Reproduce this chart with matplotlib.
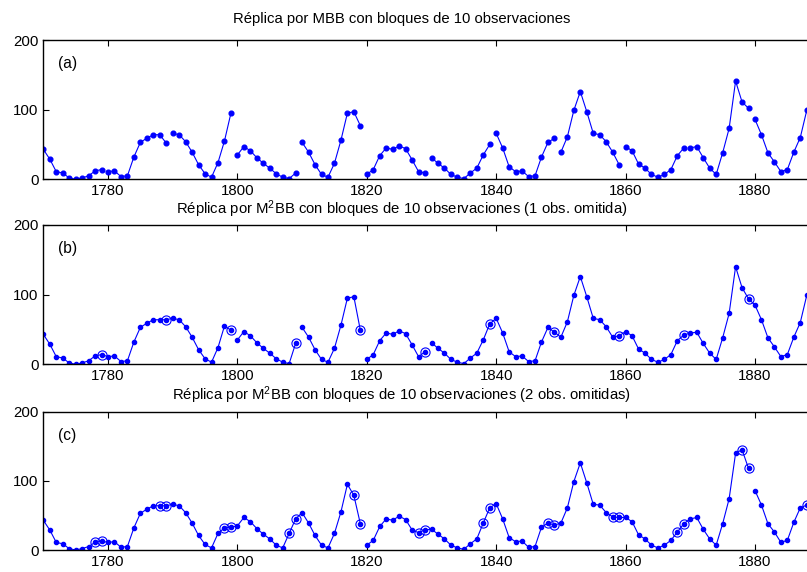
import matplotlib
matplotlib.use("Agg")
import matplotlib.pyplot as plt
import numpy as np

plt.rcParams['font.family'] = ['Liberation Sans', 'DejaVu Sans']
plt.rcParams['mathtext.fontset'] = 'custom'
plt.rcParams['mathtext.rm'] = 'Liberation Sans'
plt.rcParams['mathtext.it'] = 'Liberation Sans:italic'

years = list(range(1770, 1889))

# Panel (a): MBB replica
vals_a = [43, 29, 11, 9, 2, 0, 2, 5, 12, 14,
          11, 12, 4, 5, 32, 53, 59, 64, 64, 52,
          66, 64, 54, 39, 21, 8, 3, 24, 55, 95,
          35, 47, 41, 31, 23, 16, 8, 3, 1, 9,
          53, 39, 21, 7, 3, 23, 56, 95, 97, 77,
          7, 14, 34, 45, 43, 48, 44, 28, 11, 9,
          31, 23, 16, 7, 3, 1, 9, 16, 35, 50,
          66, 45, 18, 11, 12, 4, 5, 32, 53, 59,
          39, 61, 99, 126, 97, 66, 64, 54, 39, 21,
          47, 41, 22, 16, 7, 3, 7, 14, 34, 45,
          45, 47, 31, 16, 7, 38, 73, 141, 111, 102,
          86, 64, 38, 25, 11, 14, 39, 60, 99]
breaks_a = [1779, 1789, 1799, 1809, 1819, 1829, 1839, 1849, 1859, 1869, 1879]
circled_a = []

# Panel (b): M2BB replica, 1 obs omitted
vals_b = [43, 29, 11, 9, 2, 0, 2, 5, 12, 14,
          11, 12, 4, 5, 32, 53, 59, 64, 64, 64,
          66, 64, 54, 39, 21, 8, 3, 24, 55, 49,
          35, 47, 41, 31, 23, 16, 8, 3, 1, 30,
          53, 39, 21, 7, 3, 23, 56, 95, 97, 49,
          7, 14, 34, 45, 43, 48, 44, 28, 11, 18,
          31, 23, 16, 7, 3, 1, 9, 16, 35, 58,
          66, 45, 18, 11, 12, 4, 5, 32, 53, 46,
          39, 61, 99, 126, 97, 66, 64, 54, 39, 41,
          47, 41, 22, 16, 7, 3, 7, 14, 34, 42,
          45, 46, 30, 16, 7, 38, 73, 140, 110, 94,
          85, 64, 38, 25, 11, 14, 39, 60, 99]
breaks_b = [1799, 1809, 1819, 1829]
circled_b = [1779, 1789, 1799, 1809, 1819, 1829, 1839, 1849, 1859, 1869, 1879]

# Panel (c): M2BB replica, 2 obs omitted
vals_c = [43, 29, 11, 9, 2, 0, 2, 5, 11, 13,
          11, 12, 4, 5, 32, 53, 59, 64, 64, 64,
          66, 64, 54, 39, 21, 8, 3, 24, 32, 33,
          35, 47, 41, 31, 23, 16, 7, 3, 24, 45,
          54, 39, 21, 7, 3, 24, 55, 95, 79, 38,
          7, 14, 34, 45, 43, 49, 44, 29, 25, 29,
          30, 23, 16, 7, 3, 1, 9, 16, 39, 61,
          67, 45, 18, 12, 13, 4, 5, 33, 39, 36,
          39, 61, 99, 126, 97, 66, 65, 54, 48, 47,
          47, 41, 22, 16, 7, 3, 7, 14, 26, 38,
          45, 47, 30, 16, 7, 38, 74, 140, 145, 118,
          86, 65, 38, 26, 11, 14, 40, 61, 65]
breaks_c = [1819, 1879]
circled_c = [1778, 1779, 1788, 1789, 1798, 1799, 1808, 1809, 1818, 1819,
             1828, 1829, 1838, 1839, 1848, 1849, 1858, 1859, 1868, 1869,
             1878, 1879, 1888]

titles = ["Réplica por MBB con bloques de 10 observaciones",
          r"Réplica por M$^2$BB con bloques de 10 observaciones (1 obs. omitida)",
          r"Réplica por M$^2$BB con bloques de 10 observaciones (2 obs. omitidas)"]
labels = ["(a)", "(b)", "(c)"]
xticks = [1780, 1800, 1820, 1840, 1860, 1880]
yticks = [0, 100, 200]

W, H = 807, 572
fig = plt.figure(figsize=(W / 100, H / 100), dpi=100)

# axes boxes in pixels: (top, bottom)
boxes = [(40, 179.3), (225, 364.3), (411.7, 550)]
title_base = [23, 213.5, 399.5]
left_px = 43.3
right_px = left_px + 119 * 6.47

blue = (0, 0, 1)
panels = [(vals_a, breaks_a, circled_a), (vals_b, breaks_b, circled_b),
          (vals_c, breaks_c, circled_c)]
dot_ms = [3.4, 3.0, 3.0]

for i, (vals, breaks, circled) in enumerate(panels):
    top, bot = boxes[i]
    ax = fig.add_axes([left_px / W, 1 - bot / H, (right_px - left_px) / W, (bot - top) / H])
    yrs = np.array(years)
    v = np.array(vals, dtype=float)
    seg_start = 0
    for j, y in enumerate(yrs):
        if y in breaks or j == len(yrs) - 1:
            ax.plot(yrs[seg_start:j + 1], v[seg_start:j + 1], '-', color=blue, lw=0.8,
                    marker='o', ms=dot_ms[i], mfc=blue, mec=blue)
            seg_start = j + 1
    if circled:
        idx = [years.index(c) for c in circled]
        ax.plot(yrs[idx], v[idx], 'o', ms=6.6, mfc='none', mec=blue, mew=0.8, ls='none')
    ax.set_xlim(1770, 1889)
    ax.set_ylim(0, 200)
    ax.set_xticks(xticks)
    ax.set_yticks(yticks)
    ax.tick_params(direction='in', length=4.5, width=0.8, top=True, right=True,
                   labelsize=10.8, pad=3.5)
    for s in ax.spines.values():
        s.set_linewidth(1.0)
    ax.text(1772.2, 166, labels[i], fontsize=11.2, ha='left', va='center')
    fig.text(401.5 / W, 1 - title_base[i] / H, titles[i], fontsize=10.7,
             ha='center', va='baseline')

fig.savefig("out.png", dpi=100)
